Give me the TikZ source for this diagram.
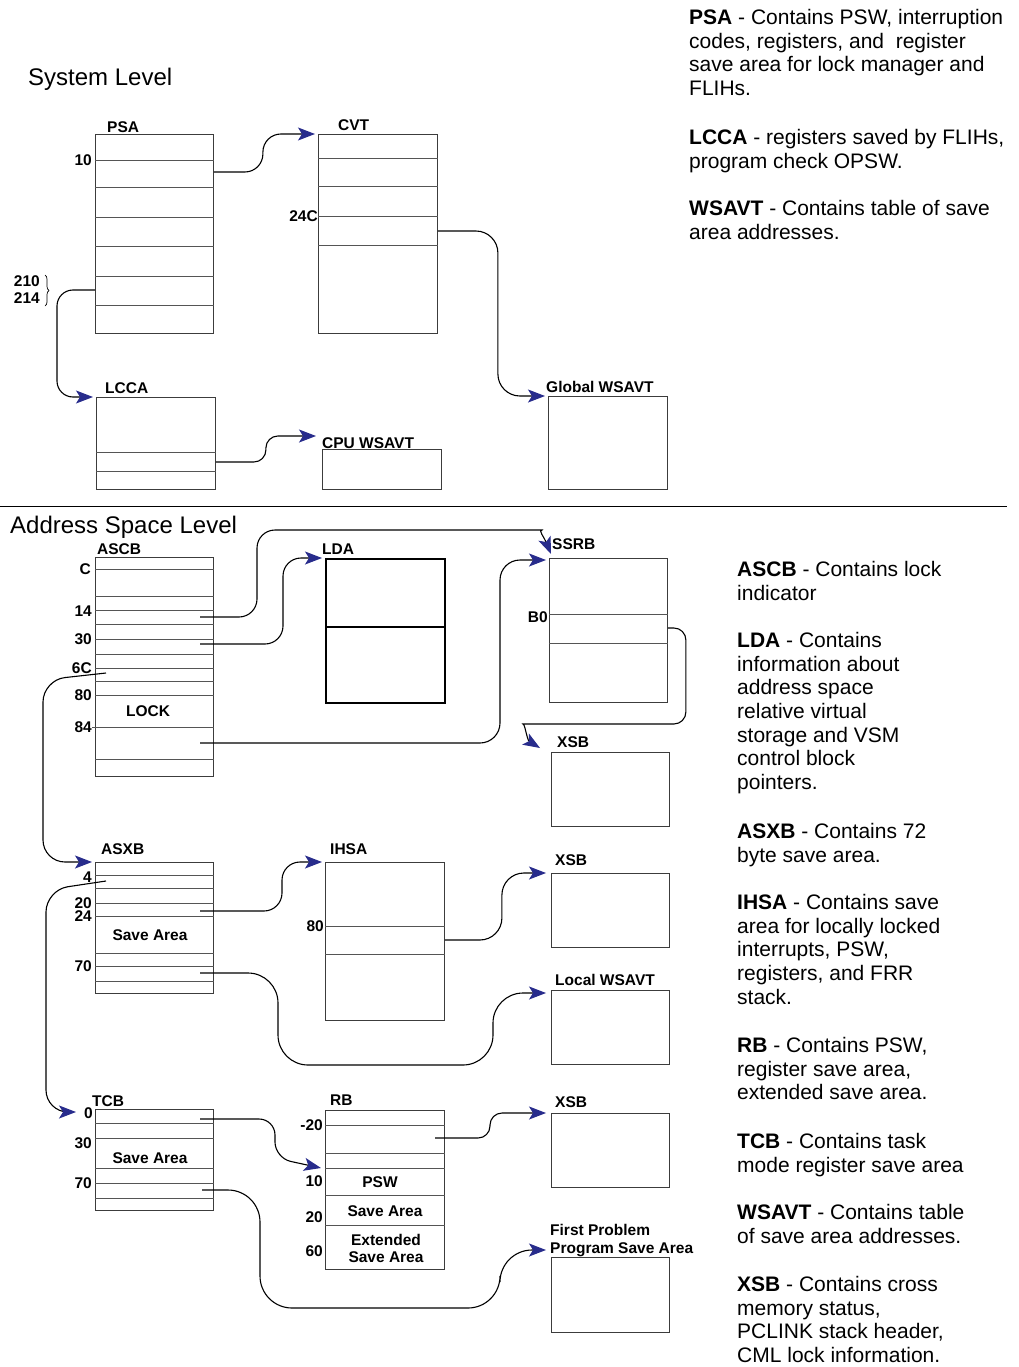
\documentclass[tikz,border=0pt]{standalone}
\usepackage{fontspec}
\setmainfont{Liberation Sans}
\usepackage{tikz}
\usetikzlibrary{arrows.meta,calc,decorations.pathreplacing}
\definecolor{arrowblue}{RGB}{40,44,140}
\definecolor{boxline}{RGB}{60,60,60}
\definecolor{rowline}{RGB}{85,85,85}
\newcommand{\tagfont}{\fontsize{15.5}{17}\selectfont\bfseries}
\newcommand{\notefont}{\fontsize{21}{23.7}\selectfont}
\newcommand{\headfont}{\fontsize{24}{28}\selectfont}
\tikzset{
  blk/.style  ={draw=boxline, line width=0.9pt, anchor=north west, inner sep=0pt},
  row/.style  ={draw=rowline, line width=0.9pt},
  tag/.style  ={font=\tagfont, anchor=base west, inner sep=0pt},
  offs/.style ={font=\tagfont, anchor=base east, inner sep=0pt},
  inbox/.style={font=\tagfont, align=center, inner sep=0pt},
  note/.style ={font=\notefont, anchor=north west, align=left, inner sep=0pt},
  head/.style ={font=\headfont, anchor=base west, inner sep=0pt},
  link/.style ={line width=1.1pt, rounded corners=18pt, -{Stealth[length=17pt,width=13pt,inset=4pt,color=arrowblue]}}
}

\begin{document}
\begin{tikzpicture}[x=1pt, y=-1pt]
  \useasboundingbox (0,0) rectangle (1019,1367);
  % system level
  \node[head] (syslvl) at (28,86) {System Level};
  \node[blk, minimum width=118pt, minimum height=199pt] (psa)   at (95,134)  {};
  \node[blk, minimum width=119pt, minimum height=199pt] (cvt)   at (318,134) {};
  \node[blk, minimum width=119pt, minimum height=92pt]  (lcca)  at (96,397)  {};
  \node[blk, minimum width=119pt, minimum height=40pt]  (cpuw)  at (322,449) {};
  \node[blk, minimum width=119pt, minimum height=93pt]  (globw) at (548,396) {};
  \foreach \y in {160,187,217,246,276,305} \draw[row] (psa.west |- 0,\y) -- (psa.east |- 0,\y);
  \foreach \y in {158,186,216,245} \draw[row] (cvt.west |- 0,\y) -- (cvt.east |- 0,\y);
  \foreach \y in {452,471} \draw[row] (lcca.west |- 0,\y) -- (lcca.east |- 0,\y);
  \node[tag] (psat)   at (107,132.5) {PSA};
  \node[tag] (cvtt)   at (338,130.5) {CVT};
  \node[tag] (lccat)  at (105,393.5) {LCCA};
  \node[tag] (cpuwt)  at (322,448.5) {CPU WSAVT};
  \node[tag] (globwt) at (546,392.5) {Global WSAVT};
  \node[offs] (psa10)  at (92,165.5)  {10};
  \node[offs] (psa210) at (40,286.5)  {210};
  \node[offs] (psa214) at (40,303.5)  {214};
  \draw[line width=0.7pt, decorate, decoration={brace, amplitude=4pt}] (45,275) -- (45,306);
  \node[offs] (cvt24c) at (318,221.5) {24C};
  \draw[link] (psa.east |- 0,172) -- ++(49,0) |- ([xshift=-3pt]cvt.north west);
  \draw[link, rounded corners=16pt] (psa.west |- 0,290) -- ++(-38,0) |- ([xshift=-3pt]lcca.north west);
  \draw[link, rounded corners=22pt] (cvt.east |- 0,231) -- ++(60,0) |- ([xshift=-3pt]globw.north west);
  \draw[link, rounded corners=12pt] (lcca.east |- 0,462) -- ++(50,0) |- ([xshift=-6pt,yshift=13pt]cpuw.north west);

  \draw[line width=0.8pt] (0,506) -- (1007,506);

  % address space level
  \node[head] (aslvl) at (10,533) {Address Space Level};
  \node[blk, minimum width=118pt, minimum height=219pt] (ascb) at (95,557)  {};
  \node[blk, draw=black, line width=1.6pt, minimum width=119pt, minimum height=144pt] (lda) at (325,558) {};
  \node[blk, minimum width=118pt, minimum height=144pt] (ssrb) at (549,558) {};
  \node[blk, minimum width=118pt, minimum height=74pt]  (xsba) at (551,752) {};
  \node[blk, minimum width=118pt, minimum height=131pt] (asxb) at (95,862)  {};
  \node[blk, minimum width=119pt, minimum height=158pt] (ihsa) at (325,862) {};
  \node[blk, minimum width=118pt, minimum height=74pt]  (xsbb) at (551,873) {};
  \node[blk, minimum width=118pt, minimum height=74pt]  (locw) at (551,990) {};
  \node[blk, minimum width=118pt, minimum height=101pt] (tcb)  at (95,1109) {};
  \node[blk, minimum width=119pt, minimum height=159pt] (rb)   at (325,1110) {};
  \node[blk, minimum width=118pt, minimum height=74pt]  (xsbc) at (551,1113) {};
  \node[blk, minimum width=118pt, minimum height=75pt]  (fpsa) at (551,1257) {};
  \foreach \y in {569,596,610,624,639,654,668,681,695,759} \draw[row] (ascb.west |- 0,\y) -- (ascb.east |- 0,\y);
  \draw[row] (92,727) -- (ascb.east |- 0,727);
  \draw[line width=1.2pt] (lda.west |- 0,627) -- (lda.east |- 0,627);
  \foreach \y in {614,643} \draw[row] (ssrb.west |- 0,\y) -- (ssrb.east |- 0,\y);
  \foreach \y in {875,888,903,916,953,966,981} \draw[row] (asxb.west |- 0,\y) -- (asxb.east |- 0,\y);
  \foreach \y in {926,954} \draw[row] (ihsa.west |- 0,\y) -- (ihsa.east |- 0,\y);
  \foreach \y in {1123,1138,1168,1183,1198} \draw[row] (tcb.west |- 0,\y) -- (tcb.east |- 0,\y);
  \foreach \y in {1125,1153,1168,1195,1225} \draw[row] (rb.west |- 0,\y) -- (rb.east |- 0,\y);

  \node[tag] (ascbt) at (97,554.5)   {ASCB};
  \node[tag] (ldat)  at (322,554.5)  {LDA};
  \node[tag] (ssrbt) at (552,549.5)  {SSRB};
  \node[tag] (xsbat) at (557,747.5)  {XSB};
  \node[tag] (asxbt) at (101,854.5)  {ASXB};
  \node[tag] (ihsat) at (330,854.5)  {IHSA};
  \node[tag] (xsbbt) at (555,865.5)  {XSB};
  \node[tag] (locwt) at (555,985.5)  {Local WSAVT};
  \node[tag] (tcbt)  at (92,1106.5)  {TCB};
  \node[tag] (rbt)   at (330,1105.5) {RB};
  \node[tag] (xsbct) at (555,1107.5) {XSB};
  \node[tag] (fpsat) at (550,1235.5) {First Problem};
  \node[tag] (fpsau) at (550,1253.5) {Program Save Area};

  \node[offs] (ascbc)  at (91,574.5) {C};
  \node[offs] (ascb14t) at (92,616.5) {14};
  \node[offs] (ascb30t) at (92,644.5) {30};
  \node[offs] (ascb6ct) at (92,673.5) {6C};
  \node[offs] (ascb80t) at (92,700.5) {80};
  \node[offs] (ascb84t) at (92,732.5) {84};
  \node[offs] (ssrbb0t) at (548,622.5) {B0};
  \node[offs] (asxb4t)  at (92,882.5) {4};
  \node[offs] (asxb20t) at (92,908.5) {20};
  \node[offs] (asxb24t) at (92,921.5) {24};
  \node[offs] (asxb70t) at (92,971.5) {70};
  \node[offs] (ihsa80t) at (324,931.5) {80};
  \node[offs] (tcb0t)   at (93,1118.5) {0};
  \node[offs] (tcb30t)  at (92,1148.5) {30};
  \node[offs] (tcb70t)  at (92,1188.5) {70};
  \node[offs] (rbm20t)  at (323,1130.5) {-20};
  \node[offs] (rb10t)   at (323,1186.5) {10};
  \node[offs] (rb20t)   at (323,1222.5) {20};
  \node[offs] (rb60t)   at (323,1256.5) {60};

  \node[inbox] (lock)   at (148,711)  {LOCK};
  \node[inbox] (asxbsa) at (150,935)  {Save Area};
  \node[inbox] (tcbsa)  at (150,1158) {Save Area};
  \node[inbox] (rbpsw)  at (380,1182) {PSW};
  \node[inbox] (rbsa)   at (385,1211) {Save Area};
  \node[inbox] (rbext)  at (386,1248) {Extended\\Save Area};

  \coordinate (ascb14) at (200,617);
  \coordinate (ascb30) at (200,644);
  \coordinate (ascb6c) at (106,673);
  \coordinate (ascb84) at (200,743);
  \coordinate (asxb4)  at (106,881);
  \coordinate (asxb20) at (200,911);
  \coordinate (asxb70) at (200,973);
  \coordinate (tcb0)   at (200,1119);
  \coordinate (tcb70)  at (202,1190);
  \coordinate (rbout)  at (435,1138);

  \draw[link] (ascb14) -- ++(57,0) |- (524,530) .. controls (538,530) and (544,537) .. ([xshift=2pt,yshift=4pt]ssrb.north west);
  \draw[link] (ascb30) -- ++(83,0) |- ([xshift=-3pt]lda.north west);
  \draw[link, rounded corners=22pt] (ascb6c) -- (43,680) |- ([xshift=-3pt]asxb.north west);
  \draw[link, rounded corners=20pt] (ascb84) -- ++(300,0) |- ([xshift=-3pt,yshift=-2pt]ssrb.north west);
  \draw[link, rounded corners=12pt] (ssrb.east |- 0,628) -- ++(18,0) |- (535,724) .. controls (525,724) and (527,740) .. ([xshift=-11pt,yshift=4pt]xsba.north west);
  \draw[link, rounded corners=22pt] (asxb4) -- (46,890) |- ([xshift=-19pt,yshift=-3pt]tcb.north west);
  \draw[link] (asxb20) -- ++(82,0) |- ([xshift=-3pt]ihsa.north west);
  \draw[link, rounded corners=30pt] (asxb70) -| (278,1065) -- (493,1065) |- ([xshift=-5pt,yshift=-3pt]locw.north west);
  \draw[link, rounded corners=22pt] (ihsa.east |- 0,940) -- ++(57,0) |- ([xshift=-5pt]xsbb.north west);
  \draw[link, rounded corners=16pt] (tcb0) -| (275,1158) -- ($(rb.west |- 0,1168)+(-4,0)$);
  \draw[link, rounded corners=12pt] (rbout) -- ++(55,0) |- ([xshift=-5pt]xsbc.north west);
  \draw[link, rounded corners=32pt] (tcb70) -| (260,1308) -- (500,1308) |- ([xshift=-5pt,yshift=7pt]fpsa.north west);

  % descriptions
  \node[note] (psan)   at (689,9)   {\textbf{PSA} - Contains PSW, interruption\\codes, registers, and~ register\\save area for lock manager and\\FLIHs.};
  \node[note] (lccan)  at (689,129) {\textbf{LCCA} - registers saved by FLIHs,\\program check OPSW.};
  \node[note] (wsavtn) at (689,200) {\textbf{WSAVT} - Contains table of save\\area addresses.};
  \node[note] (ascbn)  at (737,561)  {\textbf{ASCB} - Contains lock\\indicator};
  \node[note] (ldan)   at (737,632)  {\textbf{LDA} - Contains\\information about\\address space\\relative virtual\\storage and VSM\\control block\\pointers.};
  \node[note] (asxbn)  at (737,823)  {\textbf{ASXB} - Contains 72\\byte save area.};
  \node[note] (ihsan)  at (737,894)  {\textbf{IHSA} - Contains save\\area for locally locked\\interrupts, PSW,\\registers, and FRR\\stack.};
  \node[note] (rbn)    at (737,1037) {\textbf{RB} - Contains PSW,\\register save area,\\extended save area.};
  \node[note] (tcbn)   at (737,1133) {\textbf{TCB} - Contains task\\mode register save area};
  \node[note] (wsavtm) at (737,1204) {\textbf{WSAVT} - Contains table\\of save area addresses.};
  \node[note] (xsbn)   at (737,1276) {\textbf{XSB} - Contains cross\\memory status,\\PCLINK stack header,\\CML lock information.};
\end{tikzpicture}
\end{document}
